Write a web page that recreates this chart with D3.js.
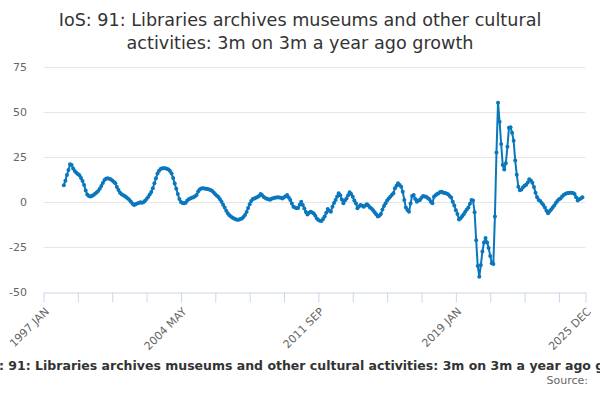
<!DOCTYPE html>
<html>
<head>
<meta charset="utf-8">
<script src="https://cdn.jsdelivr.net/npm/d3@7"></script>
<style>
  html, body { margin: 0; padding: 0; background: #fff; }
  svg { display: block; font-family: "DejaVu Sans", sans-serif; }
</style>
</head>
<body>
<svg id="chart" width="600" height="400"></svg>
<script>
// ---- Data ----
const titleLines = ["IoS: 91: Libraries archives museums and other cultural", "activities: 3m on 3m a year ago growth"];
const footerTitle = "IoS: 91: Libraries archives museums and other cultural activities: 3m on 3m a year ago growth";
const sourceText = "Source:";
const years = d3.range(1997, 2026);
const monthNames = ["JAN","FEB","MAR","APR","MAY","JUN","JUL","AUG","SEP","OCT","NOV","DEC"];
const categories = years.flatMap(y => monthNames.map(m => y + " " + m));
const firstPeriod = "1998 FEB";
const growth = [
  9.3, 11.8, 15.0, 17.8, 21.0, 20.5, 18.6, 17.2, 16.3, 15.6, 14.8,
  13.4, 11.6, 9.4, 6.4, 4.2, 3.3, 3.0, 3.3, 3.9, 4.6, 5.3, 6.1,
  7.3, 8.9, 10.6, 12.2, 12.9, 13.2, 12.9, 12.6, 12.0, 11.3, 10.4, 8.4,
  6.7, 5.1, 4.3, 3.8, 3.3, 2.7, 2.0, 1.1, 0.1, -1.0, -1.7, -1.3,
  -0.9, -0.5, -0.2, -0.4, -0.2, 0.7, 1.7, 2.8, 4.1, 5.6, 7.6, 10.4,
  13.2, 15.9, 17.4, 18.4, 18.8, 18.7, 18.8, 18.5, 18.0, 17.2, 15.8, 13.4,
  10.3, 7.4, 4.4, 1.6, 0.0, -0.5, -0.7, -0.4, 0.8, 1.5, 1.9, 2.4,
  2.7, 3.2, 3.9, 5.8, 7.0, 7.5, 7.6, 7.5, 7.4, 7.2, 7.0, 6.7,
  6.1, 5.3, 4.3, 3.5, 2.8, 1.5, 0.2, -1.5, -3.1, -4.8, -6.3, -7.3,
  -8.1, -8.7, -9.2, -9.6, -9.8, -9.8, -9.5, -9.1, -8.3, -7.2, -5.5, -3.4,
  -1.2, 0.6, 1.6, 2.0, 2.3, 2.8, 3.4, 4.4, 3.7, 2.8, 2.2, 1.8,
  1.5, 1.3, 1.8, 2.1, 2.3, 2.5, 2.6, 2.5, 2.3, 2.0, 2.6, 3.2,
  3.9, 2.5, 1.1, -0.9, -2.6, -3.1, -3.5, -3.4, -1.5, 0.2, -1.6, -3.6,
  -5.5, -6.9, -6.0, -5.4, -5.8, -6.4, -7.6, -9.1, -10.0, -10.4, -10.6, -9.4,
  -8.1, -6.0, -3.9, -4.8, -5.4, -2.6, -0.6, 1.1, 3.0, 4.8, 3.7, 1.4,
  -0.7, 0.8, 2.0, 3.8, 5.4, 4.4, 2.9, 0.8, -0.7, -3.5, -2.4, -1.7,
  -2.1, -2.6, -2.0, -1.3, -2.0, -3.0, -3.6, -4.6, -5.7, -6.8, -8.1, -7.6,
  -6.6, -4.1, -2.2, -0.7, 0.8, 1.9, 2.9, 3.9, 4.8, 7.6, 9.0, 10.4,
  9.4, 8.5, 5.7, 1.1, -3.1, -4.4, -5.4, -0.9, 3.4, 3.9, 1.6, 0.2,
  0.8, 1.1, 2.4, 3.3, 3.1, 2.9, 2.2, 1.5, 0.2, -0.7, 2.9, 3.8,
  4.5, 4.8, 5.6, 5.7, 5.2, 5.0, 4.7, 4.3, 3.3, 2.5, 0.2, -1.9,
  -4.6, -6.6, -9.7, -9.0, -7.9, -6.8, -5.4, -4.1, -3.0, -1.0, 1.1, 0.8,
  -5.7, -21.3, -35.5, -41.5, -35.0, -27.5, -22.5, -20.0, -22.5, -25.5, -30.0, -34.0,
  -34.5, -8.0, 27.5, 55.2, 44.6, 32.2, 20.6, 18.0, 21.5, 30.7, 41.3, 41.5,
  38.5, 34.0, 23.0, 15.2, 8.5, 6.5, 7.0, 8.2, 9.0, 9.6, 10.8, 12.6,
  12.0, 10.7, 8.3, 5.2, 2.6, 1.1, 0.5, -0.5, -1.7, -3.1, -4.8, -6.3,
  -5.2, -4.1, -3.0, -2.0, -0.5, 0.6, 1.5, 2.0, 3.0, 3.9, 4.5, 4.8,
  5.0, 5.2, 5.2, 5.0, 4.4, 2.6, 0.8, 1.5, 2.0, 2.6
];
const yTicks = [-50, -25, 0, 25, 50, 75];
const xTickLabels = ["1997 JAN", "2004 MAY", "2011 SEP", "2019 JAN", "2025 DEC"];
const tickEvery = 22;

// ---- Build ----
const startIdx = categories.indexOf(firstPeriod);
const points = growth.map((v, i) => ({ cat: categories[startIdx + i], value: v }));

const svg = d3.select("#chart");
const x = d3.scalePoint().domain(categories).range([43.5, 585.5]).padding(0);
const y = d3.scaleLinear().domain([-50, 75]).range([292, 67]);

// title
svg.append("text")
  .attr("x", 300).attr("y", 26)
  .attr("text-anchor", "middle")
  .attr("fill", "#333333")
  .style("font-size", "17.6px")
  .selectAll("tspan").data(titleLines).join("tspan")
  .attr("x", 300).attr("dy", (d, i) => i === 0 ? 0 : 22.5)
  .text(d => d);

// gridlines
svg.append("g").selectAll("line").data(yTicks.filter(t => t !== -50)).join("line")
  .attr("x1", 43.5).attr("x2", 585.5)
  .attr("y1", d => Math.round(y(d)) + 0.5).attr("y2", d => Math.round(y(d)) + 0.5)
  .attr("stroke", "#e6e6e6").attr("stroke-width", 1);

// y labels
svg.append("g").selectAll("text").data(yTicks).join("text")
  .attr("x", 27).attr("y", d => y(d) + 4)
  .attr("text-anchor", "end")
  .attr("fill", "#666666")
  .style("font-size", "11px")
  .text(d => d);

// x axis
const tickCats = categories.filter((c, i) => i % tickEvery === 0);
tickCats.push(categories[categories.length - 1]);
const xAxis = d3.axisBottom(x).tickValues(tickCats).tickSize(10).tickSizeOuter(0)
  .tickFormat(d => xTickLabels.includes(d) ? d : "");
const gx = svg.append("g").attr("transform", "translate(0,292.5)").call(xAxis);
gx.select(".domain").attr("stroke", "#ccd6eb");
gx.selectAll(".tick line").attr("stroke", "#ccd6eb");
gx.selectAll(".tick text")
  .attr("fill", "#666666")
  .style("font-size", "11px")
  .style("font-family", "DejaVu Sans, sans-serif")
  .attr("text-anchor", "end")
  .attr("x", 0).attr("y", 0)
  .attr("dy", "0.35em")
  .attr("transform", "translate(3,17) rotate(-45)");

// line
const line = d3.line().x(d => x(d.cat)).y(d => y(d.value));
svg.append("path").datum(points)
  .attr("d", line)
  .attr("fill", "none")
  .attr("stroke", "#0a77bd")
  .attr("stroke-width", 2)
  .attr("stroke-linejoin", "round");

svg.append("g").selectAll("circle").data(points).join("circle")
  .attr("cx", d => x(d.cat)).attr("cy", d => y(d.value))
  .attr("r", 2)
  .attr("fill", "#0a77bd");

// footer
const footerSize = "12.5px";
const footer = svg.append("text")
  .attr("y", 370)
  .attr("text-anchor", "start")
  .attr("fill", "#333333")
  .style("font-size", footerSize)
  .style("font-weight", "bold")
  .text(footerTitle);
// left edge of the visible part starts just after "IoS"
const probe = svg.append("text").style("font-size", footerSize).style("font-weight", "bold").text("IoS");
const lead = probe.node().getComputedTextLength();
probe.remove();
footer.attr("x", -lead - 1);

svg.append("text")
  .attr("x", 588).attr("y", 384)
  .attr("text-anchor", "end")
  .attr("fill", "#666666")
  .style("font-size", "11px")
  .text(sourceText);
</script>
</body>
</html>
